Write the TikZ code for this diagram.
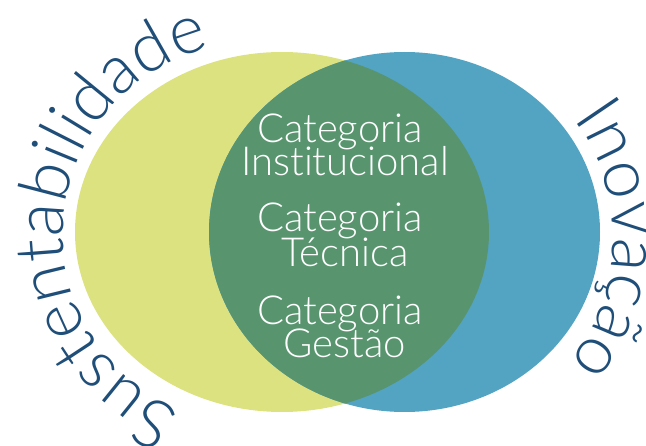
\documentclass[tikz,border=0pt]{standalone}
\usepackage{fontspec}
\IfFontExistsTF{Lato-Light.ttf}
  {\newfontfamily\thinfont{Lato-Light.ttf}[Ligatures = NoCommon]}
  {\IfFontExistsTF{NotoSans-Light.ttf}
    {\newfontfamily\thinfont{NotoSans-Light.ttf}[Ligatures = NoCommon]}
    {\IfFontExistsTF{OpenSans-Light.ttf}
      {\newfontfamily\thinfont{OpenSans-Light.ttf}[Ligatures = NoCommon]}
      {\newfontfamily\thinfont{Lato}[Ligatures = NoCommon]}}}
\usetikzlibrary{decorations.text}
\definecolor{sustyellow}{HTML}{DDE281}
\definecolor{inovblue}{HTML}{53A3C3}
\definecolor{coregreen}{HTML}{58956F}
\definecolor{ringblue}{HTML}{1F4E79}
\tikzset{
  x = 1pt,
  y = 1pt,
  category/.style = {text = white,
                     inner sep = 0pt,
                     anchor = base,
                     font = \thinfont\fontsize{40}{40}\selectfont},
  ring text/.style = {decorate,
                      decoration = {text along path,
                                    text align = center,
                                    text color = ringblue,
                                    text = {|\thinfont\fontsize{68}{68}\selectfont|#1}}}
}
\begin{document}
\begin{tikzpicture}
\useasboundingbox (0,0) rectangle (646,445);

% the two sets and their overlap
\fill[sustyellow] (282,213) ellipse [x radius = 207, y radius = 180];
\fill[inovblue] (404.5,213) ellipse [x radius = 195.5, y radius = 180];
\begin{scope}
  \clip (282,213) ellipse [x radius = 207, y radius = 180];
  \fill[coregreen] (404.5,213) ellipse [x radius = 195.5, y radius = 180];
\end{scope}

% curved set names
\path[ring text = Sustentabilidade]
  ([shift = {(250:191)}] 254,211) arc [start angle = 250, end angle = 101, radius = 191];
\path[ring text = Inovação]
  ([shift = {(38:200)}] 413,207) arc [start angle = 38, end angle = -40, radius = 200];

\node[category] (cat-inst) at (340,302) {Categoria};
\node[category] (inst) at (345,269) {Institucional};
\node[category] (cat-tec) at (340,213) {Categoria};
\node[category] (tec) at (345,178) {Técnica};
\node[category] (cat-gest) at (340,120) {Categoria};
\node[category] (gest) at (345,87) {Gestão};

\end{tikzpicture}
\end{document}
